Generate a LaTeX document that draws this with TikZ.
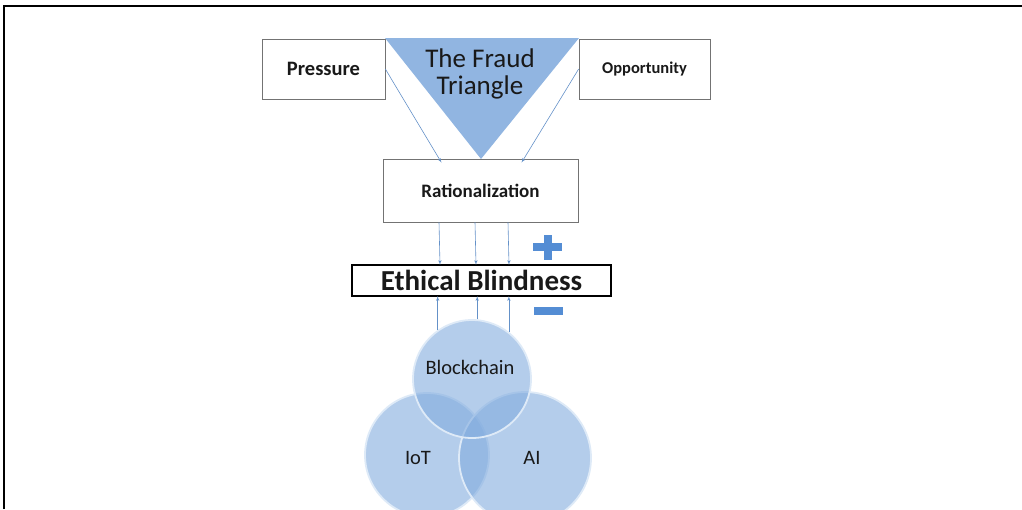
\documentclass[tikz,border=0pt]{standalone}
\usepackage{fontspec}
\setmainfont{Carlito}
\usetikzlibrary{arrows}
\definecolor{triblue}{RGB}{145,181,225}
\definecolor{signblue}{RGB}{84,141,212}
\definecolor{arrowblue}{RGB}{100,145,200}
\definecolor{ballblue}{RGB}{130,172,222}
\definecolor{rimblue}{RGB}{222,234,247}
\definecolor{ink}{RGB}{25,25,25}

\begin{document}
\begin{tikzpicture}[x=1pt,y=-1pt]
        \tikzset{box/.style = {draw=black!55,line width=0.7pt,fill=white,minimum width=123pt,minimum height=60pt,text=ink,font=\bfseries\fontsize{20.5}{22}\selectfont}}
        \tikzset{edge/.style = {->,> = latex',draw=arrowblue,line width=0.6pt}}
        \tikzset{ball/.style = {shape=circle,fill=ballblue,fill opacity=0.6,draw=rimblue,line width=1.8pt}}
        \tikzset{balltext/.style = {text=ink,font=\fontsize{20.5}{24}\selectfont}}
        \useasboundingbox (0,0) rectangle (1022,509);
        % frame
        \draw[line width=2pt] (4,509) -- (4,6) -- (1022,6);
        % triangle
        \fill[triblue] (385,38) -- (579,38) -- (481,159) -- cycle;
        \node[align=center,font=\fontsize{27}{26.5}\selectfont,text=ink] (tri) at (480,74) {The Fraud\\Triangle};
        % boxes
        \node[box] (pres) at (323.5,69) {Pressure};
        \node[box,minimum width=131pt,font=\bfseries\fontsize{16.5}{20}\selectfont] (opp) at (644.5,69) {Opportunity};
        \node[box,minimum width=195pt,minimum height=63pt,font=\bfseries\fontsize{19}{22}\selectfont] (rat) at (480.5,190.5) {Rationalization};
        \node[draw=black,line width=2.2pt,minimum width=259pt,minimum height=31pt,inner sep=0pt,text=ink,font=\bfseries\fontsize{29}{30}\selectfont] (eb) at (481.5,280.5) {Ethical Blindness};
        % signs
        \fill[signblue] (533,243) rectangle (562,251);
        \fill[signblue] (543.5,235) rectangle (551.5,260);
        \fill[signblue] (534,307) rectangle (563,315);
        % circles
        \node[ball,minimum size=124pt] (iot) at (427,455) {};
        \node[ball,minimum size=132pt] (ai) at (525,458) {};
        \node[ball,minimum size=118pt] (bc) at (472,379) {};
        \node[balltext] (bct) at (470,367) {Blockchain};
        \node[balltext] (iott) at (418,458) {IoT};
        \node[balltext] (ait) at (532,458) {AI};
        %edges
        \draw[edge] (pres.east) -- ([xshift=-39pt,yshift=-4pt]rat.north);
        \draw[edge] (opp.west) -- ([xshift=41pt,yshift=-4pt]rat.north);
        \foreach \dx in {-41.5,-5.5,27.5}
          \draw[edge] ([xshift=\dx pt]rat.south) -- ([xshift=\dx pt,yshift=-1pt]eb.north);
        \foreach \ang in {125,85,52}
          \draw[edge] (bc.\ang) -- ([yshift=1pt]bc.\ang |- eb.south);
\end{tikzpicture}
\end{document}
